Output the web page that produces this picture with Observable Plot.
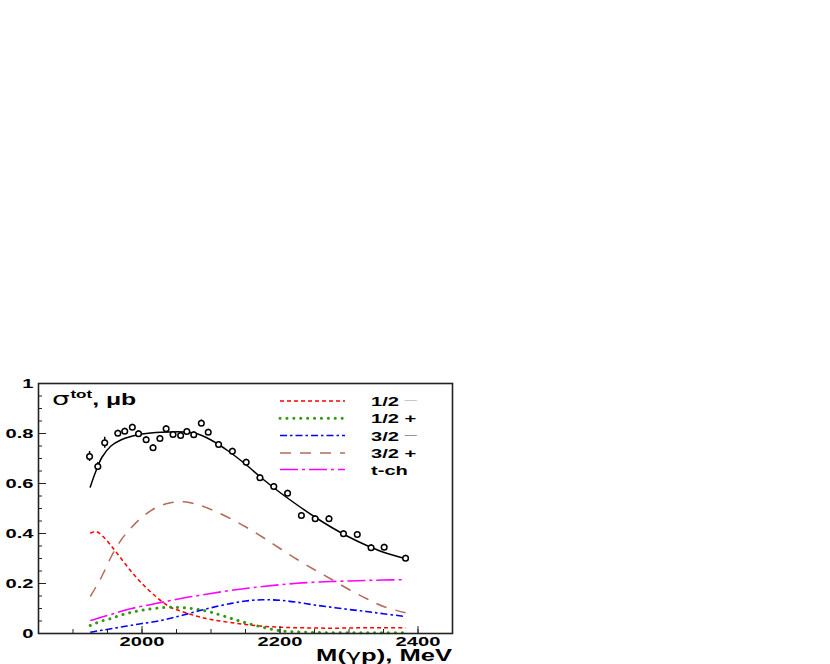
<!DOCTYPE html>
<html><head><meta charset="utf-8">
<script src="https://cdn.jsdelivr.net/npm/d3@7"></script>
<script src="https://cdn.jsdelivr.net/npm/@observablehq/plot@0.6"></script>
<style>
body{margin:0;background:#fff;}
#wrap{position:relative;width:830px;height:664px;}
svg text{font-family:"Liberation Sans",Arial,sans-serif;}
</style></head>
<body><div id="wrap"></div>
<script>
// measured cross-section points
const mass = [1924,1936,1946,1965,1975,1986,1995,2006,2016,2026,2035,2045,2056,2065,2075,2086,2096,2111,2131,2151,2171,2191,2211,2231,2251,2271,2292,2312,2332,2351,2382];
const sigma = [0.708,0.668,0.763,0.801,0.809,0.825,0.799,0.775,0.743,0.780,0.819,0.796,0.792,0.808,0.795,0.841,0.805,0.756,0.729,0.685,0.623,0.588,0.561,0.472,0.459,0.459,0.399,0.396,0.343,0.345,0.301];
const sigmaErr = [0.020,0.016,0.022,0.012,0.012,0.012,0.012,0.012,0.012,0.012,0.012,0.012,0.012,0.012,0.012,0.013,0.012,0.012,0.012,0.012,0.012,0.012,0.012,0.012,0.012,0.012,0.012,0.012,0.012,0.012,0.012];

// fit curves
const grid = [1925,1933,1942,1955,1970,1985,2000,2020,2040,2060,2080,2100,2125,2150,2175,2200,2225,2250,2275,2300,2325,2350,2382];
const total = [0.586,0.648,0.705,0.750,0.775,0.789,0.798,0.804,0.806,0.806,0.799,0.774,0.730,0.677,0.618,0.564,0.514,0.467,0.424,0.386,0.353,0.325,0.299];
const half_minus = [0.401,0.408,0.392,0.352,0.299,0.246,0.200,0.148,0.107,0.086,0.069,0.056,0.045,0.036,0.029,0.025,0.023,0.022,0.021,0.022,0.023,0.023,0.023];
const half_plus = [0.032,0.041,0.050,0.060,0.074,0.085,0.093,0.101,0.105,0.103,0.097,0.085,0.064,0.043,0.025,0.011,0.006,0.004,0.003,0.003,0.003,0.003,0.003];
const threehalf_minus = [0.005,0.009,0.013,0.019,0.026,0.033,0.040,0.048,0.060,0.074,0.089,0.103,0.118,0.130,0.135,0.133,0.125,0.114,0.105,0.096,0.088,0.079,0.068];
const threehalf_plus = [0.148,0.185,0.230,0.305,0.375,0.425,0.465,0.503,0.522,0.527,0.516,0.496,0.464,0.427,0.385,0.340,0.296,0.255,0.216,0.176,0.140,0.108,0.083];
const tchannel = [0.052,0.058,0.066,0.076,0.089,0.100,0.109,0.120,0.131,0.142,0.151,0.160,0.171,0.180,0.188,0.195,0.201,0.205,0.208,0.210,0.212,0.214,0.215];

const legendLabels = ["1/2 \u2014","1/2 +","3/2 \u2014","3/2 +","t-ch"];
const xMajor = [2000,2200,2400];
const xMinor = [1850,1900,1950,2000,2050,2100,2150,2200,2250,2300,2350,2400,2450];
const yMajor = [0,0.2,0.4,0.6,0.8,1];
const yMinor = d3.range(0,1.0001,0.05).map(v=>+v.toFixed(2));

const SX = 1.55; // horizontal stretch of the reference lettering

const points = mass.map((m,i)=>({m, s:sigma[i], e:sigmaErr[i]}));
const comps = [
  {name:"1/2-", vals:half_minus, color:"#ff0000", dash:"4,3", w:1.5, cap:"butt"},
  {name:"1/2+", vals:half_plus, color:"#2f9a10", dash:"0.1,6.8", w:3, cap:"round"},
  {name:"3/2-", vals:threehalf_minus, color:"#0000ff", dash:"7,3,2.5,3", w:1.6, cap:"butt"},
  {name:"3/2+", vals:threehalf_plus, color:"#b36b5a", dash:"11,9", w:1.5, cap:"butt"},
  {name:"t-ch", vals:tchannel, color:"#ff00ff", dash:"18,4,3,4", w:1.6, cap:"butt"}
];
const lineMarks = comps.map(c => Plot.line(grid.map((m,i)=>({m, v:c.vals[i]})), {
  x:"m", y:"v", stroke:c.color, strokeWidth:c.w, strokeDasharray:c.dash, curve:"catmull-rom",
  strokeLinecap:c.cap
}));

const fmtY = d => d===0 ? "0" : d===1 ? "1" : d.toFixed(1);

const chart = Plot.plot({
  width:830, height:664,
  marginLeft:38, marginRight:378, marginTop:383, marginBottom:31,
  x:{domain:[1850,2450]},
  y:{domain:[0,1]},
  style:{fontFamily:"Liberation Sans, Arial, sans-serif", background:"white"},
  marks:[
    ...lineMarks,
    Plot.line(grid.map((m,i)=>({m, v:total[i]})), {x:"m", y:"v", stroke:"black", strokeWidth:1.5, curve:"catmull-rom"}),
    Plot.ruleX(points, {x:"m", y1:d=>d.s-d.e, y2:d=>d.s+d.e, stroke:"black", strokeWidth:1.5}),
    Plot.ruleY(points, {y:"s", x1:d=>d.m-4, x2:d=>d.m+4, stroke:"black", strokeWidth:1.2}),
    Plot.dot(points, {x:"m", y:"s", r:2.8, stroke:"black", strokeWidth:1.5, fill:"white"}),
    Plot.axisY(yMinor, {anchor:"left", tickSize:-4, tickFormat:()=>"", label:null, stroke:"#222"}),
    Plot.axisY(yMajor, {anchor:"left", tickSize:-8, tickFormat:()=>"", label:null, stroke:"#222"}),
    Plot.axisY(yMajor, {anchor:"left", tickSize:0, tickPadding:5, tickFormat:fmtY, label:null, fontSize:13, fontWeight:"bold", fill:"black"}),
    Plot.axisX(xMinor, {anchor:"bottom", tickSize:-4, tickFormat:()=>"", label:null, stroke:"#222"}),
    Plot.axisX(xMajor, {anchor:"bottom", tickSize:-7, tickFormat:()=>"", label:null, stroke:"#222"}),
    Plot.axisX(xMajor, {anchor:"bottom", tickSize:0, tickPadding:3, tickFormat:d=>String(d), label:null, fontSize:13, fontWeight:"bold", fill:"black"}),
    Plot.frame({stroke:"#222", strokeWidth:1.6})
  ]
});
document.getElementById("wrap").appendChild(chart);

const svg = d3.select(chart);
// stretch tick labels horizontally like the reference lettering
svg.selectAll('g[aria-label$="tick label"] text').each(function(){
  const t = this.getAttribute("transform") || "";
  this.setAttribute("transform", t + ` scale(${SX},1)`);
});

// y-axis title inside frame
const yt = svg.append("text").attr("text-anchor","start").attr("fill","black")
  .attr("transform",`translate(52,405) scale(${SX},1)`);
yt.append("tspan").attr("font-size",18).attr("font-family","DejaVu Sans, sans-serif").text("\u03c3");
yt.append("tspan").attr("font-size",11).attr("font-weight","bold").attr("dy",-7).attr("dx",0.5).text("tot");
yt.append("tspan").attr("font-size",16).attr("font-weight","bold").attr("dy",7).text(", \u03bcb");

// x-axis title
const xt = svg.append("text").attr("text-anchor","end").attr("fill","black")
  .attr("font-size",16.5).attr("font-weight","bold")
  .attr("transform",`translate(452,661) scale(${SX},1)`);
xt.append("tspan").text("M(");
xt.append("tspan").attr("font-family","DejaVu Sans, sans-serif").attr("font-weight","normal").text("\u03b3");
xt.append("tspan").text("p), MeV");

// legend
const lg = svg.append("g");
const rowY = [401,418.3,435.5,453,469.5];
comps.forEach((c,i)=>{
  const y = rowY[i];
  lg.append("line").attr("x1",280).attr("x2",345).attr("y1",y).attr("y2",y)
    .attr("stroke",c.color).attr("stroke-width",c.w).attr("stroke-dasharray",c.dash)
    .attr("stroke-linecap", c.cap);
  const t = lg.append("text").attr("text-anchor","start").attr("font-size",13).attr("font-weight","bold").attr("fill","black")
    .attr("transform",`translate(371,${y+5}) scale(${SX},1)`);
  const lab = legendLabels[i];
  if (lab.endsWith("\u2014")) {
    t.append("tspan").text(lab.slice(0,-1));
    t.append("tspan").attr("font-weight","normal").attr("fill", i===0 ? "#a0a0a0" : "#444").attr("font-size",8).attr("dy",-4).text("\u2014");
  } else t.text(lab);
});
</script>
</body></html>
